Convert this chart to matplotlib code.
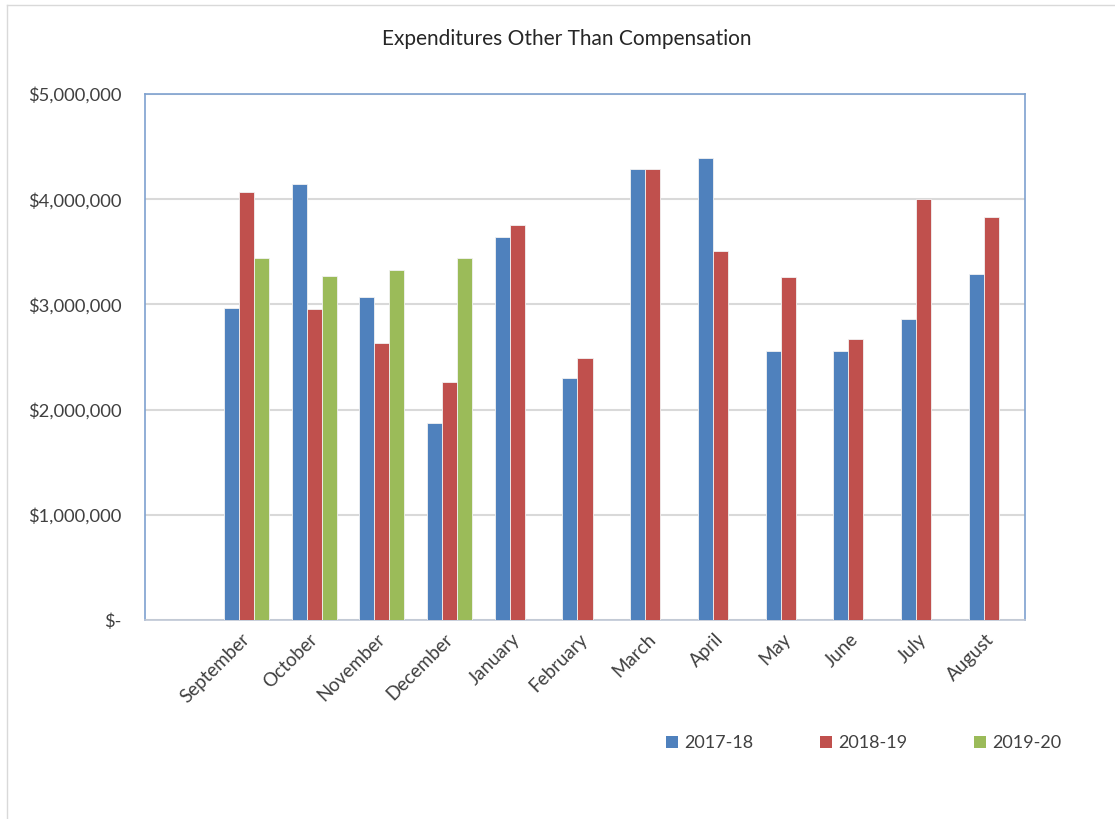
import matplotlib.pyplot as plt
import matplotlib.ticker as mticker
from matplotlib.lines import Line2D
from matplotlib.patches import Patch
import numpy as np

plt.rcParams['font.family'] = ['Lato', 'DejaVu Sans']

# first slot on the category axis is left blank
months = ["", "September", "October", "November", "December", "January", "February",
          "March", "April", "May", "June", "July", "August"]
fy_2017_18 = [np.nan, 2970000, 4140000, 3070000, 1870000, 3640000, 2300000,
              4290000, 4390000, 2560000, 2560000, 2860000, 3290000]
fy_2018_19 = [np.nan, 4070000, 2960000, 2630000, 2260000, 3750000, 2490000,
              4285000, 3510000, 3260000, 2670000, 4000000, 3830000]
fy_2019_20 = [np.nan, 3440000, 3270000, 3330000, 3440000, np.nan, np.nan,
              np.nan, np.nan, np.nan, np.nan, np.nan, np.nan]
series_names = ["2017-18", "2018-19", "2019-20"]
colors = ["#4F81BD", "#C0504D", "#9BBB59"]

fig = plt.figure(figsize=(11.15, 8.19), dpi=100)
ax = fig.add_axes([145 / 1115, 1 - 620 / 819, 880 / 1115, 526 / 819])

x = np.arange(len(months))
w = 1 / 4.5
for i, (vals, c) in enumerate(zip([fy_2017_18, fy_2018_19, fy_2019_20], colors)):
    ax.bar(x + (i - 1) * w, vals, width=w, color=c, edgecolor="#F2F2F2",
           linewidth=0.6, zorder=3)

ax.set_xlim(-0.5, len(months) - 0.5)
ax.set_ylim(0, 5000000)
ax.yaxis.set_major_locator(mticker.MultipleLocator(1000000))
ax.yaxis.set_major_formatter(
    mticker.FuncFormatter(lambda v, p: "$-" if v == 0 else f"${v:,.0f}"))
ax.grid(axis="y", color="#D9D9D9", linewidth=1.5, zorder=0)
ax.tick_params(axis="y", length=0, pad=17, labelsize=13.2, labelcolor="#404040")
ax.tick_params(axis="x", length=0, pad=12, labelsize=13.5, labelcolor="#404040")
ax.set_xticks(x)
ax.set_xticklabels(months, rotation=45, ha="right", va="center",
                   rotation_mode="anchor")

for side in ["left", "top", "right"]:
    ax.spines[side].set_color("#7EA1CF")
    ax.spines[side].set_linewidth(1.2)
ax.spines["bottom"].set_color("#BFC7D5")
ax.spines["bottom"].set_linewidth(1.2)

fig.text(567 / 1115, 1 - 39 / 819, "Expenditures Other Than Compensation",
         ha="center", va="center", fontsize=15, color="#262626")

handles = [Patch(facecolor=c, edgecolor="none") for c in colors]
fig.legend(handles, series_names, loc="center", bbox_to_anchor=(864 / 1115, 1 - 743 / 819),
           ncol=3, frameon=False, fontsize=13, handlelength=0.65, handleheight=0.65,
           handletextpad=0.35, columnspacing=3.7, labelcolor="#404040")

# outer chart-area border
fig.add_artist(Line2D([7 / 1115, 7 / 1115], [0, 1 - 5 / 819], transform=fig.transFigure,
                      color="#D9D9D9", linewidth=1))
fig.add_artist(Line2D([7 / 1115, 1], [1 - 5 / 819, 1 - 5 / 819], transform=fig.transFigure,
                      color="#D9D9D9", linewidth=1))

fig.savefig("out.png", dpi=100, facecolor="white")
